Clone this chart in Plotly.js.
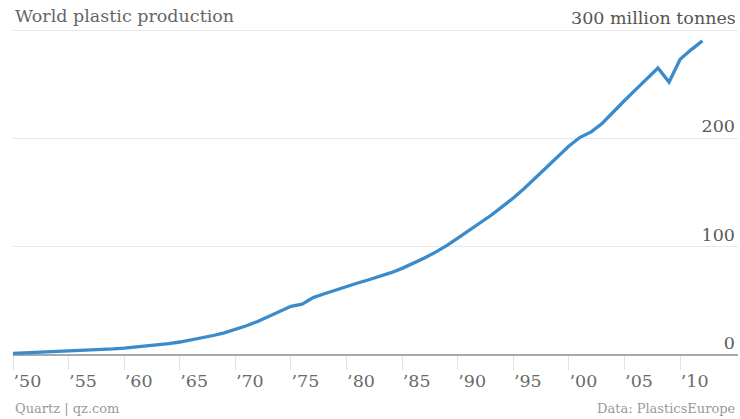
<!DOCTYPE html>
<html>
<head>
<meta charset="utf-8">
<script src="https://cdn.plot.ly/plotly-3.0.1.min.js"></script>
<style>
  html, body { margin: 0; padding: 0; background: #fff; }
  #chart { width: 740px; height: 419px; }
</style>
</head>
<body>
<div id="chart"></div>
<script>
// World plastic production, million tonnes
const years = [1950,1951,1952,1953,1954,1955,1956,1957,1958,1959,
               1960,1961,1962,1963,1964,1965,1966,1967,1968,1969,
               1970,1971,1972,1973,1974,1975,1976,1977,1978,1979,
               1980,1981,1982,1983,1984,1985,1986,1987,1988,1989,
               1990,1991,1992,1993,1994,1995,1996,1997,1998,1999,
               2000,2001,2002,2003,2004,2005,2006,2007,2008,2009,
               2010,2011,2012];
const production = [1.5,1.9,2.2,2.5,2.9,3.3,3.8,4.3,4.9,5.6,
                    6.4,7.3,8.2,9.3,10.6,12,13.8,15.8,18,20.5,
                    23.5,27,31,35.5,40.5,45,47,53,56.5,60,
                    63.5,66.5,69.5,72.5,76,80,84.5,89.5,95,101,
                    108,115,122,129,137,145,154,164,174,183.5,
                    193,201,206,214,225,235,245,255,265,252,
                    273,282,290];
const xTickVals = [1950,1955,1960,1965,1970,1975,1980,1985,1990,1995,2000,2005,2010];
const xTickText = ["’50","’55","’60","’65","’70","’75","’80","’85","’90","’95","’00","’05","’10"];
const yTickVals = [0,100,200,300];
const yTickText = ["0","100","200",""];
const unitLabel = "300 million tonnes";

const FONT = "DejaVu Serif, serif";

const trace = {
  x: years, y: production, type: "scatter", mode: "lines",
  line: {color: "#3a8bcb", width: 3.3, shape: "linear"},
  hoverinfo: "skip"
};

const layout = {
  width: 740, height: 419,
  margin: {l: 13, r: 2, t: 29, b: 64},
  paper_bgcolor: "#fff", plot_bgcolor: "#fff",
  showlegend: false,
  font: {family: FONT, color: "#666"},
  xaxis: {
    range: [1950, 2015.2],
    tickvals: xTickVals, ticktext: xTickText,
    ticks: "outside", ticklen: 14, tickcolor: "#e3e3e3", tickwidth: 1,
    ticklabelposition: "outside right",
    ticklabelstandoff: 10,
    tickfont: {family: FONT, size: 17.5, color: "#6a6a6a"},
    showgrid: false, zeroline: false, showline: false,
    fixedrange: true
  },
  yaxis: {
    range: [0, 301],
    side: "right",
    tickvals: yTickVals, ticktext: yTickText,
    ticklabelposition: "inside top",
    tickfont: {family: FONT, size: 17.5, color: "#5a5a5a"},
    ticks: "",
    showgrid: true, gridcolor: "#e8e8e8", gridwidth: 1,
    zeroline: true, zerolinecolor: "#a8a8a8", zerolinewidth: 2,
    showline: false, fixedrange: true
  },
  annotations: [
    {text: "World plastic production", xref: "paper", yref: "paper",
     x: 0, y: 1, xanchor: "left", yanchor: "bottom", yshift: 1, showarrow: false,
     font: {family: FONT, size: 17.5, color: "#666"}},
    {text: unitLabel, xref: "paper", yref: "y",
     x: 1, y: 300, xanchor: "right", yanchor: "bottom", yshift: 0, showarrow: false,
     font: {family: FONT, size: 17.5, color: "#555"}},
    {text: "Quartz | qz.com", xref: "paper", yref: "paper",
     x: 0, y: 0, xanchor: "left", yanchor: "top", yshift: -44, showarrow: false,
     font: {family: FONT, size: 13, color: "#999"}},
    {text: "Data: PlasticsEurope", xref: "paper", yref: "paper",
     x: 1, y: 0, xanchor: "right", yanchor: "top", yshift: -44, showarrow: false,
     font: {family: FONT, size: 13, color: "#999"}}
  ]
};

Plotly.newPlot("chart", [trace], layout, {displayModeBar: false, staticPlot: true});
</script>
</body>
</html>
